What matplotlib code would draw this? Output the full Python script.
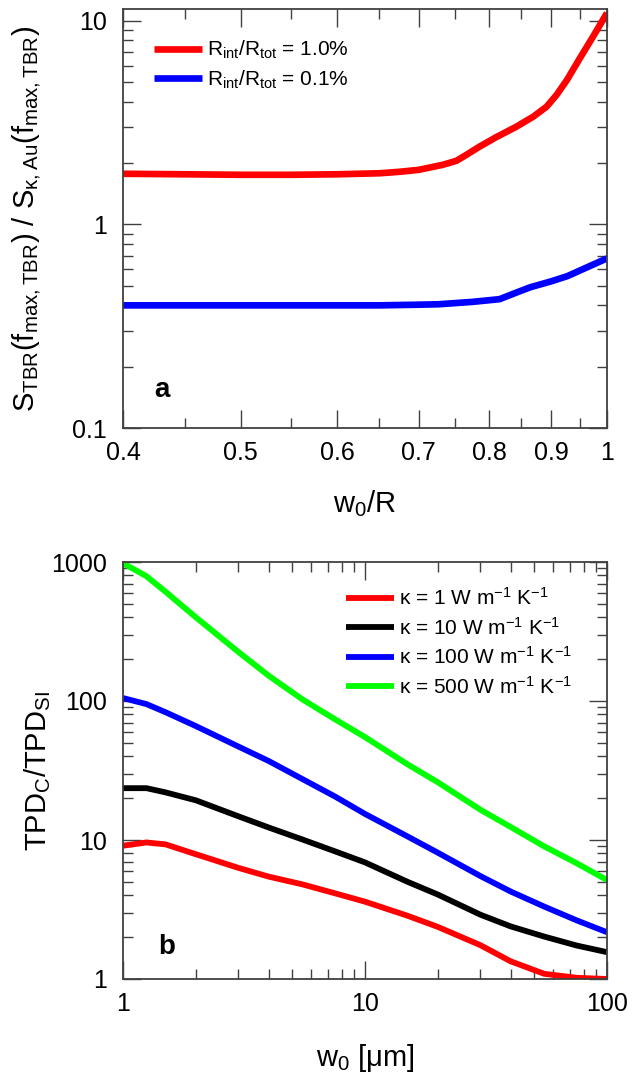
import numpy as np
import matplotlib
matplotlib.use("Agg")
import matplotlib.pyplot as plt
from matplotlib.ticker import FixedLocator, NullFormatter

plt.rcParams['font.family'] = ['Liberation Sans', 'DejaVu Sans']
plt.rcParams['mathtext.default'] = 'regular'

# panel a: S_TBR / S_kappa,Au vs w0/R
w0R_1 = [0.40, 0.45, 0.50, 0.55, 0.60, 0.65, 0.675, 0.70, 0.733, 0.752, 0.766,
         0.786, 0.811, 0.842, 0.870, 0.892, 0.909, 0.927, 0.950, 0.974, 1.0]
ratio_1 = [1.77, 1.76, 1.75, 1.75, 1.76, 1.78, 1.81, 1.85, 1.96, 2.05, 2.19,
           2.41, 2.68, 3.01, 3.38, 3.78, 4.32, 5.11, 6.54, 8.35, 10.9]
w0R_01 = [0.40, 0.50, 0.60, 0.65, 0.70, 0.727, 0.775, 0.816, 0.843, 0.865,
          0.90, 0.928, 0.96, 1.0]
ratio_01 = [0.40, 0.40, 0.40, 0.40, 0.403, 0.405, 0.416, 0.429, 0.463, 0.491,
            0.525, 0.557, 0.61, 0.68]
labels_a = ['R$_{int}$/R$_{tot}$ = 1.0%', 'R$_{int}$/R$_{tot}$ = 0.1%']

# panel b: TPD_C / TPD_SI vs w0
w0 = [1, 1.25, 1.5, 2, 3, 4, 5.5, 7.5, 10, 15, 20, 30, 40, 55, 75, 100]
tpd_k1 = [9.1, 9.6, 9.3, 7.9, 6.3, 5.45, 4.8, 4.14, 3.6, 2.85, 2.37, 1.75, 1.34, 1.09, 1.02, 1.0]
tpd_k10 = [23.6, 23.6, 22.0, 19.3, 14.8, 12.3, 10.1, 8.3, 6.9, 5.0, 4.05, 2.9, 2.39, 2.02, 1.74, 1.56]
tpd_k100 = [105, 95, 83, 66, 47, 37, 27.5, 20.6, 15.4, 10.6, 8.1, 5.5, 4.26, 3.32, 2.64, 2.17]
tpd_k500 = [980, 790, 610, 400, 225, 152, 103, 74, 55, 35, 26, 16.5, 12.4, 9.0, 6.8, 5.15]
labels_b = ['κ = 1 W m$^{-1}$ K$^{-1}$', 'κ = 10 W m$^{-1}$ K$^{-1}$',
            'κ = 100 W m$^{-1}$ K$^{-1}$', 'κ = 500 W m$^{-1}$ K$^{-1}$']

W, H = 633, 1083
fig = plt.figure(figsize=(W / 100, H / 100), dpi=100)
ax1 = fig.add_axes([123 / W, 1 - 428 / H, 484 / W, 419 / H])
ax2 = fig.add_axes([123 / W, 1 - 979 / H, 484 / W, 417 / H])

axcol = '#404040'
tick_fs = 18
label_fs = 21


def style(ax):
    for s in ax.spines.values():
        s.set_color(axcol)
        s.set_linewidth(1.3)
    ax.tick_params(which='both', direction='in', top=True, right=True,
                   color=axcol, width=1.0, labelsize=tick_fs)
    ax.tick_params(which='major', length=13)
    ax.tick_params(which='minor', length=7)
    ax.tick_params(axis='x', pad=9.5)
    ax.tick_params(axis='y', pad=11.5)


# --- panel a ---
ax1.plot(w0R_1, ratio_1, color='#ff0000', lw=4.8, solid_capstyle='butt', label=labels_a[0])
ax1.plot(w0R_01, ratio_01, color='#0000ff', lw=4.8, solid_capstyle='butt', label=labels_a[1])
ax1.set_xscale('log')
ax1.set_yscale('log')
ax1.set_xlim(0.4, 1.0)
ax1.set_ylim(0.1, 11.4)
ax1.xaxis.set_major_locator(FixedLocator([0.4, 0.5, 0.6, 0.7, 0.8, 0.9, 1.0]))
ax1.set_xticklabels(['0.4', '0.5', '0.6', '0.7', '0.8', '0.9', '1'])
ax1.xaxis.set_minor_locator(FixedLocator([0.45, 0.55, 0.65, 0.75, 0.85, 0.95]))
ax1.xaxis.set_minor_formatter(NullFormatter())
ax1.yaxis.set_major_locator(FixedLocator([0.1, 1, 10]))
ax1.set_yticklabels(['0.1', '1', '10'])
ax1.yaxis.set_minor_formatter(NullFormatter())
style(ax1)
ax1.set_xlabel('w$_0$/R', fontsize=label_fs)
ax1.xaxis.set_label_coords(0.5, -0.143)
ax1.set_ylabel('S$_{TBR}$(f$_{max,TBR}$) / S$_{κ,Au}$(f$_{max,TBR}$)', fontsize=label_fs)
ax1.yaxis.set_label_coords(-0.165, 0.5)
ax1.legend(loc='upper left', bbox_to_anchor=(0.064, 0.928), frameon=False, fontsize=15,
           borderpad=0, handlelength=2.3, handletextpad=0.25, labelspacing=0.35,
           borderaxespad=0)
ax1.text(0.08, 0.09, 'a', transform=ax1.transAxes, fontsize=20, fontweight='bold',
         ha='center', va='center')

# --- panel b ---
colors_b = ['#ff0000', '#000000', '#0000ff', '#00ff00']
for ys, c, lab in zip([tpd_k1, tpd_k10, tpd_k100, tpd_k500], colors_b, labels_b):
    ax2.plot(w0, ys, color=c, lw=4.2, solid_capstyle='butt', label=lab)
ax2.set_xscale('log')
ax2.set_yscale('log')
ax2.set_xlim(1, 100)
ax2.set_ylim(1, 1000)
ax2.xaxis.set_major_locator(FixedLocator([1, 10, 100]))
ax2.set_xticklabels(['1', '10', '100'])
ax2.xaxis.set_minor_formatter(NullFormatter())
ax2.yaxis.set_major_locator(FixedLocator([1, 10, 100, 1000]))
ax2.set_yticklabels(['1', '10', '100', '1000'])
ax2.yaxis.set_minor_formatter(NullFormatter())
style(ax2)
ax2.set_xlabel('w$_0$ [μm]', fontsize=label_fs)
ax2.xaxis.set_label_coords(0.5, -0.151)
ax2.set_ylabel('TPD$_C$/TPD$_{SI}$', fontsize=label_fs)
ax2.yaxis.set_label_coords(-0.145, 0.5)
ax2.legend(loc='upper left', bbox_to_anchor=(0.46, 0.94), frameon=False, fontsize=15,
           borderpad=0, handlelength=2.3, handletextpad=0.25, labelspacing=0.37,
           borderaxespad=0)
ax2.text(0.09, 0.077, 'b', transform=ax2.transAxes, fontsize=20, fontweight='bold',
         ha='center', va='center')

fig.savefig('out.png', dpi=100)
